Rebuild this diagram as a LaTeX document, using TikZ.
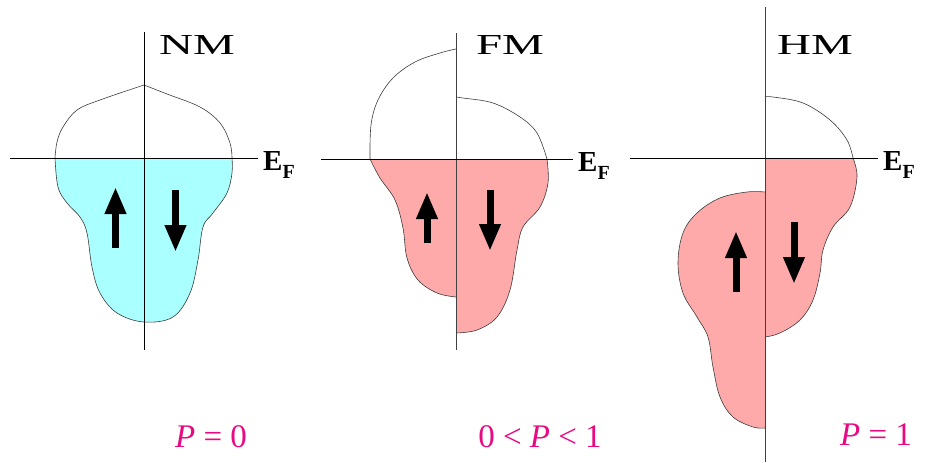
\documentclass[tikz,border=0pt]{standalone}
\usepackage{fontspec}
\setmainfont{Liberation Serif}
\usetikzlibrary{arrows.meta}
\definecolor{nmfill}{RGB}{170,255,255}
\definecolor{fmfill}{RGB}{255,170,170}
\definecolor{plabel}{RGB}{232,10,130}
\definecolor{outline}{RGB}{60,60,60}
\tikzset{
  axis/.style={line width=1pt, black},
  axisg/.style={line width=0.9pt, black!75},
  dos/.style={line width=0.6pt, outline},
  spin/.style={line width=7pt, -{Triangle[width=20pt,length=27pt]}},
  title/.style={font=\rmfamily\fontsize{29}{32}\selectfont, xscale=1.62, transform shape, inner sep=0pt},
  eflabel/.style={font=\rmfamily\fontsize{29}{32}\selectfont\bfseries, inner sep=0pt, anchor=west},
  plab/.style={font=\rmfamily\fontsize{33}{36}\selectfont, text=plabel, inner sep=0pt}
}
\newcommand{\EFtext}{E\raisebox{-0.28em}{\fontsize{20}{22}\selectfont F}}
\begin{document}
\begin{tikzpicture}[x=1pt,y=-1pt]
\useasboundingbox (0,0) rectangle (930,463);
\fill[white] (0,0) rectangle (930,463);

% ================= NM =================
\fill[nmfill] plot[smooth, tension=0.6] coordinates {(55,158) (58,187) (67,203) (80,217) (87,233) (92,267) (100,293) (117,313) (144,322) (173,317) (190,293) (198,260) (203,227) (213,213) (227,193) (232,173) (232,158)} -- cycle;
\draw[dos] plot[smooth, tension=0.6] coordinates {(55,158) (58,187) (67,203) (80,217) (87,233) (92,267) (100,293) (117,313) (144,322) (173,317) (190,293) (198,260) (203,227) (213,213) (227,193) (232,173) (232,158)};
\draw[dos] plot[smooth, tension=0.6] coordinates {(55,158) (57,142) (63,127) (77,110) (100,100) (144,85)};
\draw[dos] plot[smooth, tension=0.6] coordinates {(144,85) (167,94) (200,107) (220,123) (230,143) (232,158)};
\coordinate (nmT) at (144,32);
\coordinate (nmB) at (144,350);
\coordinate (nmL) at (10,158);
\coordinate (nmR) at (258,158);
\draw[axis] (nmT) -- (nmB);
\draw[axis] (nmL) -- (nmR);
\node[title] (nmlab) at (197,45) {NM};
\node[eflabel] (nmef) at (263,165) {\EFtext};
\coordinate (nmu1) at (115.5,248);
\coordinate (nmu2) at (115.5,187);
\coordinate (nmd1) at (175.5,190);
\coordinate (nmd2) at (175.5,252);
\draw[spin] (nmu1) -- (nmu2);
\draw[spin] (nmd1) -- (nmd2);
\node[plab] (p0) at (211,437) {\textit{P} = 0};

% ================= FM =================
\fill[fmfill] plot[smooth, tension=0.6] coordinates {(370,159) (380,178) (395,200) (403,228) (407,258) (418,280) (437,293) (456,297)} -- (456,159) -- cycle;
\draw[dos] plot[smooth, tension=0.6] coordinates {(370,159) (380,178) (395,200) (403,228) (407,258) (418,280) (437,293) (456,297)};
\fill[fmfill] plot[smooth, tension=0.6] coordinates {(547,159) (548,183) (540,207) (523,227) (517,250) (510,290) (497,317) (477,330) (456,333)} -- (456,159) -- cycle;
\draw[dos] plot[smooth, tension=0.6] coordinates {(547,159) (548,183) (540,207) (523,227) (517,250) (510,290) (497,317) (477,330) (456,333)};
\draw[dos] plot[smooth, tension=0.6] coordinates {(456,49) (440,53) (415,62) (393,78) (378,100) (371,125) (370,159)};
\draw[dos] plot[smooth, tension=0.6] coordinates {(456,97) (463,98) (493,103) (520,117) (537,133) (547,159)};
\coordinate (fmT) at (456,33);
\coordinate (fmB) at (456,350);
\coordinate (fmL) at (321,159);
\coordinate (fmR) at (573,159);
\draw[axisg] (fmT) -- (fmB);
\draw[axis] (fmL) -- (fmR);
\node[title] (fmlab) at (510,45) {FM};
\node[eflabel] (fmef) at (578,166) {\EFtext};
\coordinate (fmu1) at (427,243);
\coordinate (fmu2) at (427,192);
\coordinate (fmd1) at (490,190);
\coordinate (fmd2) at (490,251);
\draw[spin] (fmu1) -- (fmu2);
\draw[spin] (fmd1) -- (fmd2);
\node[plab] (p01) at (540,437) {0 {<} \textit{P} {<} 1};

% ================= HM =================
\fill[fmfill] plot[smooth, tension=0.6] coordinates {(853,158) (857,177) (850,207) (833,227) (823,250) (820,273) (813,300) (800,320) (780,333) (765,337)} -- (765,158) -- cycle;
\draw[dos] plot[smooth, tension=0.6] coordinates {(853,158) (857,177) (850,207) (833,227) (823,250) (820,273) (813,300) (800,320) (780,333) (765,337)};
\fill[fmfill] plot[smooth, tension=0.6] coordinates {(765,192) (747,192) (720,198) (697,213) (683,233) (678,263) (683,293) (697,317) (708,337) (713,367) (720,397) (733,417) (753,427) (765,428)} -- cycle;
\draw[dos] plot[smooth, tension=0.6] coordinates {(765,192) (747,192) (720,198) (697,213) (683,233) (678,263) (683,293) (697,317) (708,337) (713,367) (720,397) (733,417) (753,427) (765,428)};
\draw[dos] plot[smooth, tension=0.6] coordinates {(765,97) (773,97) (803,103) (830,120) (847,140) (853,158)};
\coordinate (hmT) at (765,7);
\coordinate (hmB) at (765,462);
\coordinate (hmL) at (630,158);
\coordinate (hmR) at (878,158);
\draw[axisg] (hmT) -- (hmB);
\draw[axis] (hmL) -- (hmR);
\node[title] (hmlab) at (815,45) {HM};
\node[eflabel] (hmef) at (883,165) {\EFtext};
\coordinate (hmu1) at (736,292);
\coordinate (hmu2) at (736,231);
\coordinate (hmd1) at (794,222);
\coordinate (hmd2) at (794,284);
\draw[spin] (hmu1) -- (hmu2);
\draw[spin] (hmd1) -- (hmd2);
\node[plab] (p1) at (876,435) {\textit{P} = 1};
\end{tikzpicture}
\end{document}
